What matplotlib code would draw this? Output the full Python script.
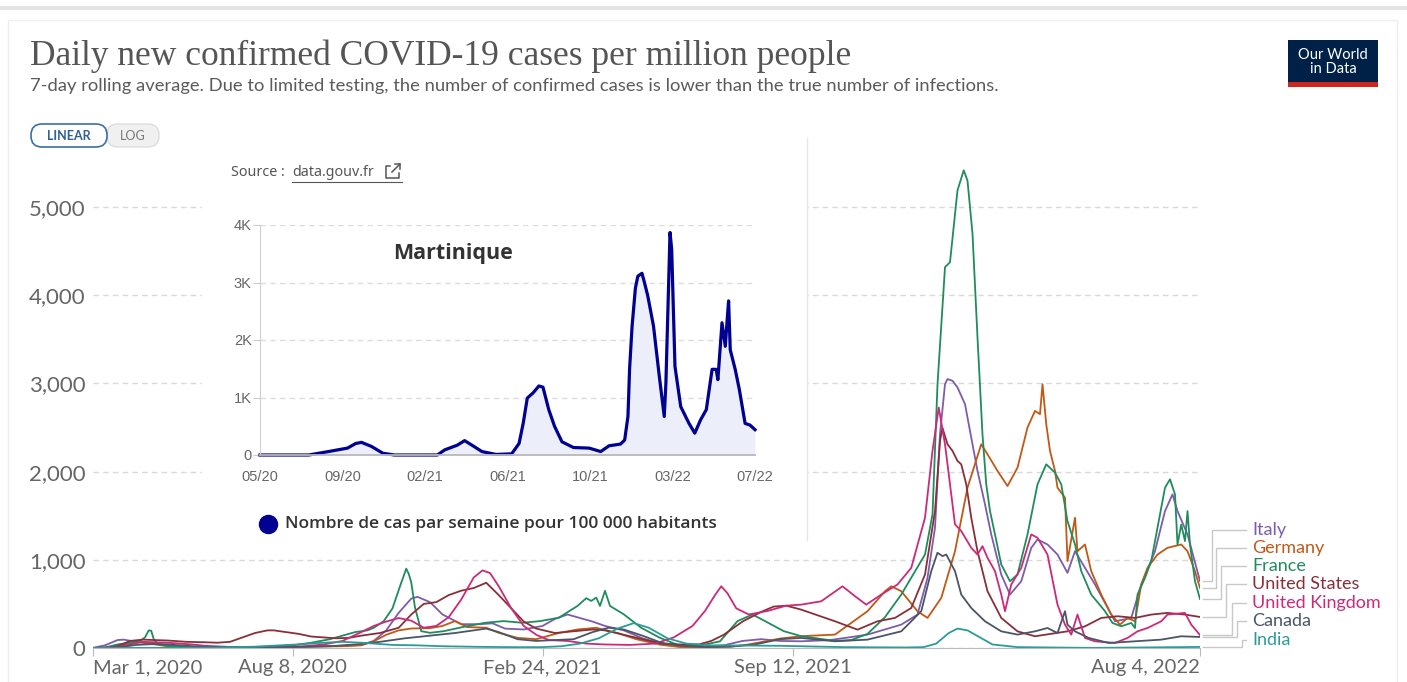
"""
Daily new confirmed COVID-19 cases per million (OWID style) with the
Martinique weekly incidence panel pasted on top.
"""
import numpy as np
import matplotlib
matplotlib.use("Agg")
import matplotlib.pyplot as plt
from matplotlib.patches import Rectangle, FancyBboxPatch
from matplotlib.lines import Line2D

W, H = 1407, 682
START = np.datetime64("2020-03-01")
END = np.datetime64("2022-08-04")

# ---- main chart data: days since 2020-03-01 / cases per million ----
italy_days = [0, 10, 20, 25, 35, 50, 65, 80, 100, 130, 160, 180, 200, 215, 225, 235, 245, 255, 260, 270,
              280, 295, 310, 320, 330, 345, 360, 370, 380, 390, 400, 410, 425, 440, 455, 475, 490, 505, 520,
              535, 550, 567, 590, 605, 620, 647, 660, 668, 674, 678, 682, 684, 688, 692, 698, 703, 708, 714,
              719, 727, 734, 743, 751, 756, 764, 772, 780, 786, 794, 802, 810, 818, 831, 839, 850, 858, 864,
              868, 876, 886]
italy_vals = [1, 30, 90, 95, 70, 50, 25, 10, 5, 4, 6, 20, 25, 35, 80, 200, 400, 560, 580, 520,
              380, 270, 270, 280, 220, 210, 250, 330, 380, 340, 300, 250, 200, 110, 50, 25, 15, 30, 80,
              100, 80, 76, 90, 120, 152, 265, 379, 795, 1364, 2424, 2992, 3050, 3030, 2955, 2765, 2386, 2008, 1629,
              1288, 833, 606, 757, 1136, 1231, 1174, 1060, 852, 1098, 909, 720, 511, 303, 341, 720, 1098, 1553, 1742,
              1553, 1288, 760]

germany_days = [0, 15, 25, 35, 45, 60, 80, 120, 150, 170, 200, 215, 225, 235, 245, 255, 270, 280, 290, 300,
                315, 325, 340, 355, 373, 388, 403, 420, 435, 454, 470, 490, 510, 524, 540, 550, 567, 594, 620,
                634, 639, 647, 660, 668, 679, 690, 700, 711, 716, 724, 732, 740, 748, 754, 758, 760, 763, 766,
                770, 772, 778, 780, 786, 788, 794, 799, 807, 815, 822, 828, 834, 839, 844, 852, 860, 871, 876,
                882, 886]
germany_vals = [0, 5, 40, 70, 50, 20, 8, 5, 8, 15, 20, 30, 76, 150, 200, 221, 225, 250, 305, 237,
                230, 172, 115, 100, 170, 210, 229, 170, 100, 38, 10, 8, 15, 38, 80, 107, 134, 152, 417,
                644, 700, 644, 417, 341, 568, 1098, 1818, 2311, 2197, 2008, 1837, 2045, 2500, 2689, 2652, 2992, 2538, 2235,
                2008, 1818, 1705, 985, 1477, 1098, 1174, 871, 606, 379, 265, 341, 303, 720, 909, 1060, 1136, 1174, 1098,
                871, 680]

france_days = [0, 10, 20, 30, 38, 42, 45, 47, 49, 52, 60, 75, 100, 120, 140, 160, 175, 190, 200, 210,
               220, 225, 233, 240, 246, 249, 251, 253, 255, 258, 263, 270, 281, 296, 314, 329, 344, 358, 373,
               388, 395, 399, 403, 406, 410, 414, 425, 439, 454, 469, 487, 502, 516, 528, 538, 553, 567, 594,
               607, 620, 634, 647, 666, 672, 676, 682, 686, 692, 697, 700, 704, 708, 712, 715, 718, 722, 727,
               734, 740, 748, 756, 763, 770, 775, 780, 786, 791, 799, 810, 816, 823, 831, 834, 836, 842, 847,
               852, 858, 862, 866, 868, 871, 874, 876, 878, 882, 886]
france_vals = [0, 5, 40, 60, 80, 120, 200, 195, 100, 45, 25, 12, 8, 10, 15, 30, 60, 100, 140, 180,
               200, 229, 305, 450, 700, 820, 900, 840, 744, 458, 191, 172, 191, 237, 286, 305, 286, 305, 343,
               477, 565, 534, 572, 477, 649, 477, 382, 229, 115, 31, 30, 76, 305, 380, 305, 191, 134, 80,
               90, 160, 350, 606, 1060, 1515, 2990, 4318, 4375, 5190, 5417, 5300, 4700, 3520, 2420, 1856, 1553, 1288, 947,
               757, 833, 1288, 1856, 2083, 1989, 1856, 1439, 1174, 871, 606, 417, 284, 246, 284, 227, 606, 795, 985,
               1364, 1818, 1913, 1742, 1174, 1400, 1212, 1553, 1174, 757, 556]

us_days = [0, 10, 20, 30, 40, 50, 60, 75, 90, 100, 110, 120, 130, 140, 145, 155, 165, 175, 185, 195,
           205, 215, 230, 245, 255, 265, 275, 285, 295, 305, 315, 325, 335, 345, 355, 370, 385, 400, 410,
           425, 440, 455, 470, 485, 495, 505, 520, 535, 545, 555, 567, 594, 612, 628, 642, 655, 666, 674,
           678, 680, 684, 688, 692, 695, 699, 703, 708, 716, 727, 740, 754, 780, 794, 807, 820, 834, 847,
           860, 874, 886]
us_vals = [0, 1, 20, 80, 95, 90, 85, 70, 65, 60, 70, 120, 170, 200, 200, 180, 160, 130, 120, 110,
           115, 140, 170, 230, 380, 500, 520, 600, 650, 680, 740, 600, 450, 300, 220, 170, 190, 210, 200,
           150, 100, 50, 40, 40, 80, 150, 300, 410, 470, 480, 435, 303, 208, 303, 341, 454, 833, 1553,
           2348, 2495, 2311, 2235, 2121, 2083, 1856, 1477, 1098, 644, 341, 189, 133, 189, 246, 341, 360, 341, 379,
           398, 379, 352]

uk_days = [0, 20, 30, 40, 50, 60, 70, 80, 90, 110, 130, 150, 170, 185, 200, 215, 225, 235, 245, 255,
           265, 275, 285, 295, 305, 312, 318, 325, 335, 345, 355, 365, 380, 395, 410, 430, 450, 465, 480,
           490, 498, 503, 508, 515, 525, 540, 555, 567, 583, 600, 610, 619, 631, 644, 655, 666, 672, 677,
           682, 686, 690, 695, 703, 708, 712, 716, 722, 727, 730, 735, 743, 751, 756, 764, 772, 778, 783,
           788, 794, 802, 818, 828, 836, 844, 855, 860, 874, 879, 886]
uk_vals = [0, 10, 40, 70, 65, 60, 50, 40, 25, 12, 10, 12, 20, 40, 80, 180, 250, 300, 340, 310,
           230, 250, 350, 550, 800, 880, 850, 700, 450, 250, 150, 90, 80, 50, 40, 35, 50, 120, 250,
           420, 600, 700, 620, 450, 380, 420, 480, 492, 530, 700, 587, 492, 606, 720, 909, 1477, 2235, 2727,
           2311, 1856, 1402, 1326, 1136, 1060, 1155, 1023, 871, 606, 417, 720, 909, 1288, 1250, 1060, 492, 265, 152,
           379, 114, 76, 57, 114, 189, 227, 303, 379, 398, 265, 147]

canada_days = [0, 20, 35, 50, 60, 75, 90, 120, 160, 190, 210, 230, 250, 270, 290, 305, 315, 325, 340, 355,
               370, 385, 400, 413, 425, 440, 455, 470, 490, 510, 530, 550, 567, 594, 620, 647, 663, 671, 676,
               680, 683, 690, 695, 703, 714, 727, 740, 754, 764, 772, 778, 780, 786, 797, 813, 834, 855, 871,
               886]
canada_vals = [0, 5, 35, 45, 40, 25, 10, 8, 10, 20, 40, 70, 110, 140, 170, 200, 220, 180, 100, 80,
               90, 100, 180, 230, 210, 140, 60, 25, 10, 15, 40, 100, 114, 76, 95, 189, 417, 871, 1080,
               1042, 1060, 871, 606, 454, 303, 189, 152, 189, 227, 170, 417, 265, 189, 114, 57, 76, 95, 133,
               125]

india_days = [0, 50, 100, 130, 150, 170, 185, 200, 215, 240, 260, 280, 310, 340, 360, 375, 390, 405, 420, 433,
              445, 460, 475, 495, 520, 550, 567, 600, 650, 665, 675, 685, 692, 700, 710, 720, 740, 800, 886]
india_vals = [0, 1, 5, 15, 30, 45, 60, 70, 60, 35, 30, 20, 13, 9, 10, 20, 50, 110, 220, 282,
              230, 110, 50, 30, 28, 25, 20, 10, 6, 10, 50, 170, 220, 200, 120, 40, 10, 1, 12]

countries = ["Italy", "Germany", "France", "United States", "United Kingdom", "Canada", "India"]
colors = ["#7d5cab", "#c05917", "#1f8c5c", "#883039", "#cc2a78", "#4b5566", "#2b9b98"]
series_days = [italy_days, germany_days, france_days, us_days, uk_days, canada_days, india_days]
series_vals = [italy_vals, germany_vals, france_vals, us_vals, uk_vals, canada_vals, india_vals]

y_ticks = [0, 1000, 2000, 3000, 4000, 5000]
x_tick_dates = ["2020-03-01", "2020-08-08", "2021-02-24", "2021-09-12", "2022-08-04"]
x_tick_labels = ["Mar 1, 2020", "Aug 8, 2020", "Feb 24, 2021", "Sep 12, 2021", "Aug 4, 2022"]

# ---- Martinique panel: position in tick units / weekly cases per 100k ----
mq_ticks = ["05/20", "09/20", "02/21", "06/21", "10/21", "03/22", "07/22"]
mq_pos = [0, 0.59, 0.83, 1.06, 1.16, 1.23, 1.35, 1.49, 1.63, 2.15, 2.24, 2.39, 2.48, 2.57, 2.69, 2.86,
          3.05, 3.14, 3.19, 3.24, 3.31, 3.38, 3.43, 3.50, 3.57, 3.66, 3.80, 3.99, 4.13, 4.23, 4.37, 4.42,
          4.46, 4.48, 4.51, 4.55, 4.58, 4.63, 4.66, 4.70, 4.77, 4.84, 4.90, 4.92, 4.97, 4.99, 5.03, 5.10,
          5.20, 5.27, 5.34, 5.41, 5.48, 5.53, 5.55, 5.60, 5.64, 5.66, 5.68, 5.70, 5.76, 5.81, 5.88, 5.94, 6.0]
mq_vals = [0, 0, 60, 120, 200, 220, 150, 30, 0, 0, 90, 170, 250, 170, 60, 10,
           20, 200, 550, 990, 1080, 1200, 1180, 790, 500, 230, 130, 120, 60, 160, 190, 260,
           670, 1500, 2240, 2900, 3110, 3160, 3000, 2770, 2240, 1370, 670, 1250, 3870, 3580, 1540, 840,
           550, 380, 610, 790, 1490, 1490, 1310, 2300, 1890, 2300, 2680, 1830, 1490, 1140, 550, 520, 440]


def box(x0, y0, x1, y1):
    return [x0 / W, 1 - y1 / H, (x1 - x0) / W, (y1 - y0) / H]


fig = plt.figure(figsize=(W / 100, H / 100), dpi=100)

# ---- main axes ----
ax = fig.add_axes(box(92.5, 163, 1200, 648))
ax.set_zorder(1)
for d, v, c in zip(series_days, series_vals, colors):
    dates = START + np.array(d).astype("timedelta64[D]")
    ax.plot(dates, v, color=c, lw=1.3, solid_joinstyle="round")
ax.set_xlim(START, END)
ax.set_ylim(0, 5500)
for s in ["top", "right", "left"]:
    ax.spines[s].set_visible(False)
ax.spines["bottom"].set_color("#bbbbbb")
ax.set_yticks(y_ticks)
ax.set_yticklabels([f"{t:,}" for t in y_ticks])
ax.tick_params(axis="y", length=0, pad=5, labelsize=16, labelcolor="#666666")
ax.set_xticks(np.array(x_tick_dates, dtype="datetime64[D]"))
ax.set_xticklabels(x_tick_labels)
ax.tick_params(axis="x", length=6, color="#bbbbbb", pad=2, labelsize=14.5, labelcolor="#666666")
for lab in ax.get_yticklabels() + ax.get_xticklabels():
    lab.set_fontfamily("Lato")
xl = ax.get_xticklabels()
xl[0].set_ha("left")
xl[-1].set_ha("right")
ax.yaxis.grid(True, color="#d9d9d9", lw=1, ls=(0, (4, 3)))
ax.set_axisbelow(True)

# ---- overlay in pixel coordinates ----
ov = fig.add_axes([0, 0, 1, 1])
ov.set_zorder(5)
ov.patch.set_alpha(0)
ov.set_xlim(0, W)
ov.set_ylim(H, 0)
ov.axis("off")

# page chrome
ov.add_patch(Rectangle((0, 6), W, 4, color="#e4e4e4", lw=0))
ov.add_patch(Rectangle((8, 20), 1389, 700, fill=False, ec="#eeeeee", lw=1))

ov.text(30, 56, "Daily new confirmed COVID-19 cases per million people", family="Liberation Serif",
        fontsize=25.5, color="#555555", va="center")
ov.text(30, 86, "7-day rolling average. Due to limited testing, the number of confirmed cases is lower "
        "than the true number of infections.", family="Lato", fontsize=13.2, color="#5b5b5b", va="center")

# logo
ov.add_patch(Rectangle((1288, 40), 90, 42, color="#002147", lw=0))
ov.add_patch(Rectangle((1288, 82), 90, 5, color="#ce261e", lw=0))
ov.text(1333, 62, "Our World\nin Data", family="Lato", fontsize=10.5, color="white",
        ha="center", va="center", linespacing=0.95)

# linear / log toggle
ov.add_patch(FancyBboxPatch((107, 124), 52, 23, boxstyle="round,pad=0,rounding_size=11",
                            fc="#f0f0f0", ec="#dddddd", lw=1))
ov.add_patch(FancyBboxPatch((31, 124), 76, 23, boxstyle="round,pad=0,rounding_size=11",
                            fc="white", ec="#3a6ea5", lw=1.2))
ov.text(69, 135.5, "LINEAR", family="Lato", fontsize=9, color="#2f5f94", weight="bold",
        ha="center", va="center")
ov.text(133, 135.5, "LOG", family="Lato", fontsize=9, color="#777777", ha="center", va="center")

# connectors + country labels
label_y = [530, 548, 566, 584, 603, 621, 640]
elbow_x = [1212, 1216, 1221, 1226, 1232, 1237, 1242]
for name, c, d, v, ly, ex in zip(countries, colors, series_days, series_vals, label_y, elbow_x):
    end_date = START + np.timedelta64(d[-1], "D")
    px, py = ax.transData.transform((matplotlib.dates.date2num(end_date), v[-1]))
    py = H - py
    ov.add_line(Line2D([1203, ex, ex, 1246], [py, py, ly, ly], color="#c8c8c8", lw=1))
    ov.text(1252, ly, name, family="Lato", fontsize=13, color=c, va="center")

# Martinique panel background
ov.add_patch(Rectangle((202, 138), 605, 402, color="white", lw=0))
ov.add_line(Line2D([807, 807], [138, 540], color="#e6e6e6", lw=1))

ov.text(231, 172, "Source : ", family="Noto Sans", fontsize=10.3, color="#555555", va="center")
ov.text(292, 172, "data.gouv.fr", family="Noto Sans", fontsize=10.3, color="#555555", va="center")
ov.add_line(Line2D([292, 402], [182, 182], color="#555555", lw=0.8))
ov.add_line(Line2D([390, 386, 386, 399, 399], [166, 166, 178, 178, 173], color="#555555", lw=1.1))
ov.add_line(Line2D([392, 400], [172, 164], color="#555555", lw=1.1))
ov.add_line(Line2D([395, 400, 400], [164, 164, 169], color="#555555", lw=1.1))

ov.plot([268], [524], "o", ms=13, color="#000091")
ov.text(285, 524, "Nombre de cas par semaine pour 100 000 habitants", family="Open Sans",
        weight="semibold", fontsize=12.5, color="#333333", va="center")

# Martinique plot
axi = fig.add_axes(box(260, 225, 755, 455))
axi.set_zorder(6)
axi.patch.set_alpha(0)
axi.fill_between(mq_pos, mq_vals, color="#eceef9", lw=0)
axi.plot(mq_pos, mq_vals, color="#000091", lw=2.3, solid_joinstyle="round", clip_on=False)
axi.set_xlim(0, 6)
axi.set_ylim(0, 4000)
axi.set_xticks(range(len(mq_ticks)))
axi.set_xticklabels(mq_ticks)
axi.set_yticks([0, 1000, 2000, 3000, 4000])
axi.set_yticklabels(["0", "1K", "2K", "3K", "4K"])
axi.tick_params(axis="x", length=0, pad=11, labelsize=10.5, labelcolor="#666666")
axi.tick_params(axis="y", length=5, color="#cccccc", pad=1, labelsize=10.5, labelcolor="#666666")
for lab in axi.get_xticklabels() + axi.get_yticklabels():
    lab.set_fontfamily("Liberation Sans")
for s in ["top", "right"]:
    axi.spines[s].set_visible(False)
axi.spines["left"].set_color("#d0d0d0")
axi.spines["bottom"].set_color("#b8b8b8")
axi.spines["bottom"].set_linewidth(1.3)
axi.yaxis.grid(True, color="#dddddd", lw=1, ls=(0, (4, 3)))
axi.set_axisbelow(True)
axi.text(0.39, 0.875, "Martinique", transform=axi.transAxes, family="Open Sans", weight="bold",
         fontsize=15.5, color="#333333", ha="center", va="center")

fig.savefig("out.png", dpi=100, facecolor="white")
